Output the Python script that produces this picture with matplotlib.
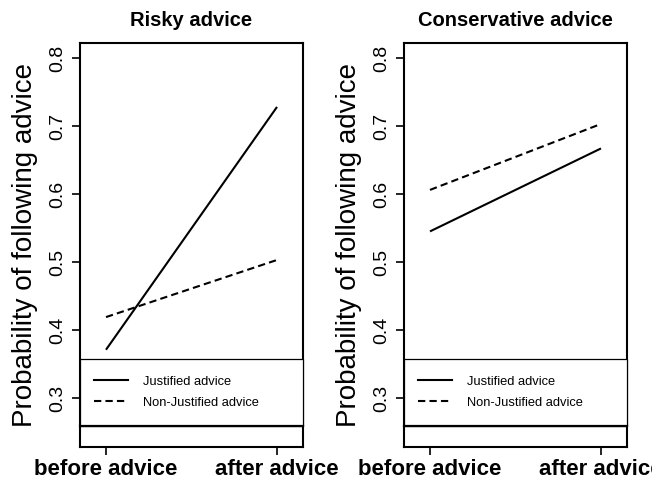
import matplotlib
matplotlib.use('Agg')
import matplotlib.pyplot as plt
from matplotlib.patches import Rectangle

plt.rcParams['font.family'] = ['Liberation Sans', 'DejaVu Sans']

# data
x_ticks = ['before advice', 'after advice']
x_pos = [1, 2]
titles = ['Risky advice', 'Conservative advice']
justified = [[0.371, 0.728], [0.545, 0.667]]
non_justified = [[0.419, 0.503], [0.606, 0.703]]
y_ticks = [0.3, 0.4, 0.5, 0.6, 0.7, 0.8]
y_lable = 'Probability of following advice'
legend_lables = ['Justified advice', 'Non-Justified advice']

fig = plt.figure(figsize=(6.52, 4.8), dpi=100)
lefts = [80 / 652, 404 / 652]

for i in range(2):
    ax = fig.add_axes([lefts[i], 1 - 447 / 480, 223 / 652, 404 / 480])
    ax.plot(x_pos, justified[i], color='black', lw=1.5, solid_capstyle='butt')
    ax.plot(x_pos, non_justified[i], color='black', lw=1.5, dashes=(3.5, 2))
    ax.set_xlim(0.848, 2.152)
    ax.set_ylim(0.228, 0.822)
    ax.set_xticks(x_pos)
    ax.set_xticklabels(x_ticks, fontsize=16, fontweight='bold')
    ax.set_yticks(y_ticks)
    ax.set_yticklabels([str(v) for v in y_ticks], fontsize=14, rotation=90, va='center')
    ax.tick_params(axis='both', length=6, width=1.2, direction='out')
    ax.tick_params(axis='y', pad=4)
    ax.tick_params(axis='x', pad=2.5)
    ax.set_ylabel(y_lable, fontsize=20, va='center')
    ax.yaxis.set_label_coords(-0.247, 0.5)
    ax.set_title(titles[i], fontsize=14.5, fontweight='bold', pad=12)
    for s in ax.spines.values():
        s.set_linewidth(1.5)

    # legend box in R style, full width of the plot
    tr = ax.get_yaxis_transform()
    ax.add_patch(Rectangle((0, 0.259), 1, 0.099, transform=tr, facecolor='white',
                           edgecolor='black', lw=0.9, zorder=3, clip_on=False))
    ax.plot([0, 1], [0.259, 0.259], transform=tr, color='black', lw=1.6, zorder=4, clip_on=False)
    h1, = ax.plot([], [], color='black', lw=1.5)
    h2, = ax.plot([], [], color='black', lw=1.5, dashes=(3.5, 2))
    leg = ax.legend([h1, h2], legend_lables, loc='center left', bbox_to_anchor=(0.063, 0.3085),
                    bbox_transform=tr, frameon=False, fontsize=9.3, handlelength=2.6,
                    handletextpad=1.2, labelspacing=0.72, borderpad=0, borderaxespad=0)
    leg.set_zorder(5)

fig.savefig('out.png')
